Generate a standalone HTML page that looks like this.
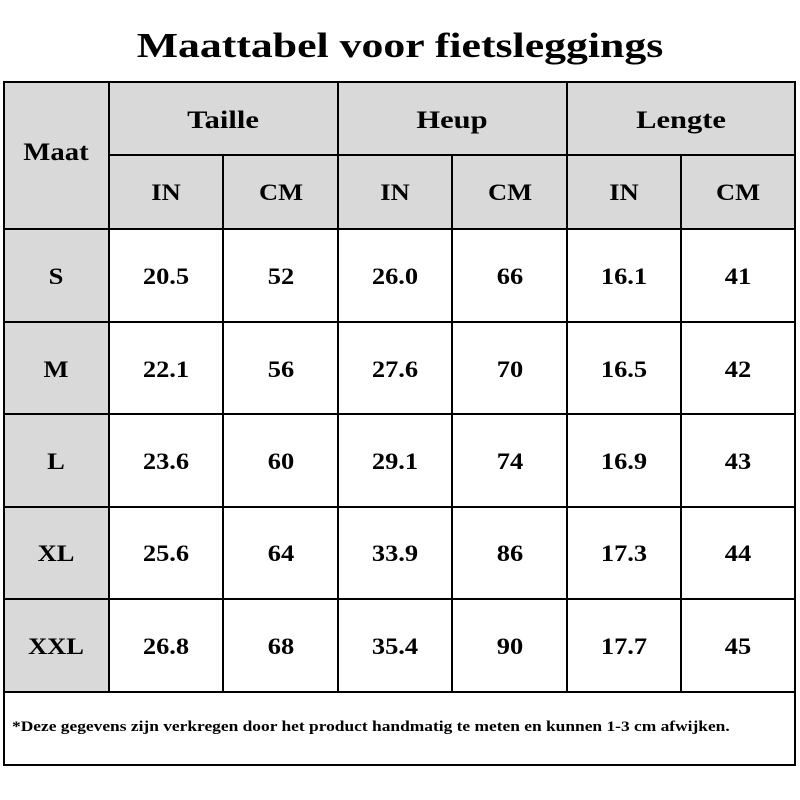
<!DOCTYPE html>
<html><head><meta charset="utf-8"><style>
body{margin:0;width:800px;height:800px;background:#fff;position:relative;font-family:"Liberation Serif",serif;overflow:hidden}
.g{position:absolute;background:#d9d9d9}
.h{position:absolute;height:2px;background:#000}
.v{position:absolute;width:2px;background:#000}
.t{position:absolute;font-weight:bold;color:#000;text-align:center;transform:translate(-50%,-50%) scaleX(1.15);white-space:nowrap}
</style></head><body>
<div class="t" style="left:400px;top:46px;font-size:35px;transform:translate(-50%,-50%) scaleX(1.25)">Maattabel voor fietsleggings</div>
<div class="g" style="left:4px;top:82px;width:791px;height:147px"></div>
<div class="g" style="left:4px;top:229px;width:105px;height:463px"></div>
<div class="h" style="left:4px;top:81px;width:792px"></div>
<div class="h" style="left:109px;top:154px;width:686px"></div>
<div class="h" style="left:4px;top:228px;width:792px"></div>
<div class="h" style="left:4px;top:321px;width:792px"></div>
<div class="h" style="left:4px;top:413px;width:792px"></div>
<div class="h" style="left:4px;top:506px;width:792px"></div>
<div class="h" style="left:4px;top:598px;width:792px"></div>
<div class="h" style="left:4px;top:691px;width:792px"></div>
<div class="h" style="left:4px;top:764px;width:792px"></div>
<div class="v" style="left:3px;top:81px;height:685px"></div>
<div class="v" style="left:794px;top:81px;height:685px"></div>
<div class="v" style="left:108px;top:81px;height:611px"></div>
<div class="v" style="left:222px;top:155px;height:537px"></div>
<div class="v" style="left:337px;top:81px;height:611px"></div>
<div class="v" style="left:451px;top:155px;height:537px"></div>
<div class="v" style="left:566px;top:81px;height:611px"></div>
<div class="v" style="left:680px;top:155px;height:537px"></div>
<div class="t" style="left:56px;top:153px;font-size:25px">Maat</div>
<div class="t" style="left:223px;top:121px;font-size:25px;transform:translate(-50%,-50%) scaleX(1.22)">Taille</div>
<div class="t" style="left:452px;top:121px;font-size:25px;transform:translate(-50%,-50%) scaleX(1.22)">Heup</div>
<div class="t" style="left:681px;top:121px;font-size:25px;transform:translate(-50%,-50%) scaleX(1.22)">Lengte</div>
<div class="t" style="left:166px;top:193px;font-size:23px">IN</div>
<div class="t" style="left:281px;top:193px;font-size:23px">CM</div>
<div class="t" style="left:395px;top:193px;font-size:23px">IN</div>
<div class="t" style="left:510px;top:193px;font-size:23px">CM</div>
<div class="t" style="left:624px;top:193px;font-size:23px">IN</div>
<div class="t" style="left:738px;top:193px;font-size:23px">CM</div>
<div class="t" style="left:56px;top:277px;font-size:23px">S</div>
<div class="t" style="left:56px;top:370px;font-size:23px">M</div>
<div class="t" style="left:56px;top:462px;font-size:23px">L</div>
<div class="t" style="left:56px;top:554px;font-size:23px">XL</div>
<div class="t" style="left:56px;top:647px;font-size:23px">XXL</div>
<div style="position:absolute;left:0;top:1px;font-size:23px">
<div class="t" style="left:166px;top:276px">20.5</div><div class="t" style="left:281px;top:276px">52</div><div class="t" style="left:395px;top:276px">26.0</div><div class="t" style="left:510px;top:276px">66</div><div class="t" style="left:624px;top:276px">16.1</div><div class="t" style="left:738px;top:276px">41</div>
<div class="t" style="left:166px;top:369px">22.1</div><div class="t" style="left:281px;top:369px">56</div><div class="t" style="left:395px;top:369px">27.6</div><div class="t" style="left:510px;top:369px">70</div><div class="t" style="left:624px;top:369px">16.5</div><div class="t" style="left:738px;top:369px">42</div>
<div class="t" style="left:166px;top:461px">23.6</div><div class="t" style="left:281px;top:461px">60</div><div class="t" style="left:395px;top:461px">29.1</div><div class="t" style="left:510px;top:461px">74</div><div class="t" style="left:624px;top:461px">16.9</div><div class="t" style="left:738px;top:461px">43</div>
<div class="t" style="left:166px;top:553px">25.6</div><div class="t" style="left:281px;top:553px">64</div><div class="t" style="left:395px;top:553px">33.9</div><div class="t" style="left:510px;top:553px">86</div><div class="t" style="left:624px;top:553px">17.3</div><div class="t" style="left:738px;top:553px">44</div>
<div class="t" style="left:166px;top:646px">26.8</div><div class="t" style="left:281px;top:646px">68</div><div class="t" style="left:395px;top:646px">35.4</div><div class="t" style="left:510px;top:646px">90</div><div class="t" style="left:624px;top:646px">17.7</div><div class="t" style="left:738px;top:646px">45</div>
</div>
<div style="position:absolute;left:12px;top:719px;font-size:15px;color:#000;white-space:nowrap;font-weight:bold;transform-origin:0 0;transform:scaleX(1.16)">*Deze gegevens zijn verkregen door het product handmatig te meten en kunnen 1-3 cm afwijken.</div>
</body></html>
